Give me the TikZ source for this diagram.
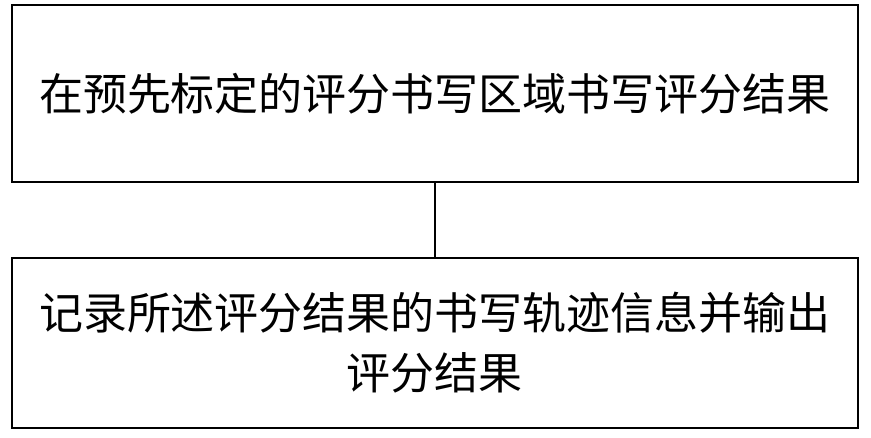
\documentclass[tikz,border=0pt]{standalone}
\usepackage{fontspec}
\newfontfamily\cjk{Noto Sans CJK SC}
\begin{document}
\begin{tikzpicture}[x=1pt,y=-1pt,
  stepbox/.style={draw,line width=1.5pt,minimum width=846pt,inner sep=0pt,align=center,font=\cjk\fontsize{44}{60}\selectfont}]
\useasboundingbox (0,0) rectangle (871,438);
\node[stepbox,minimum height=177pt] (a) at (435,93.5) {在预先标定的评分书写区域书写评分结果};
\node[stepbox,minimum height=170pt] (b) at (435,343) {记录所述评分结果的书写轨迹信息并输出\\评分结果};
\draw[line width=1.5pt] (a.south) -- (b.north);
\end{tikzpicture}
\end{document}
